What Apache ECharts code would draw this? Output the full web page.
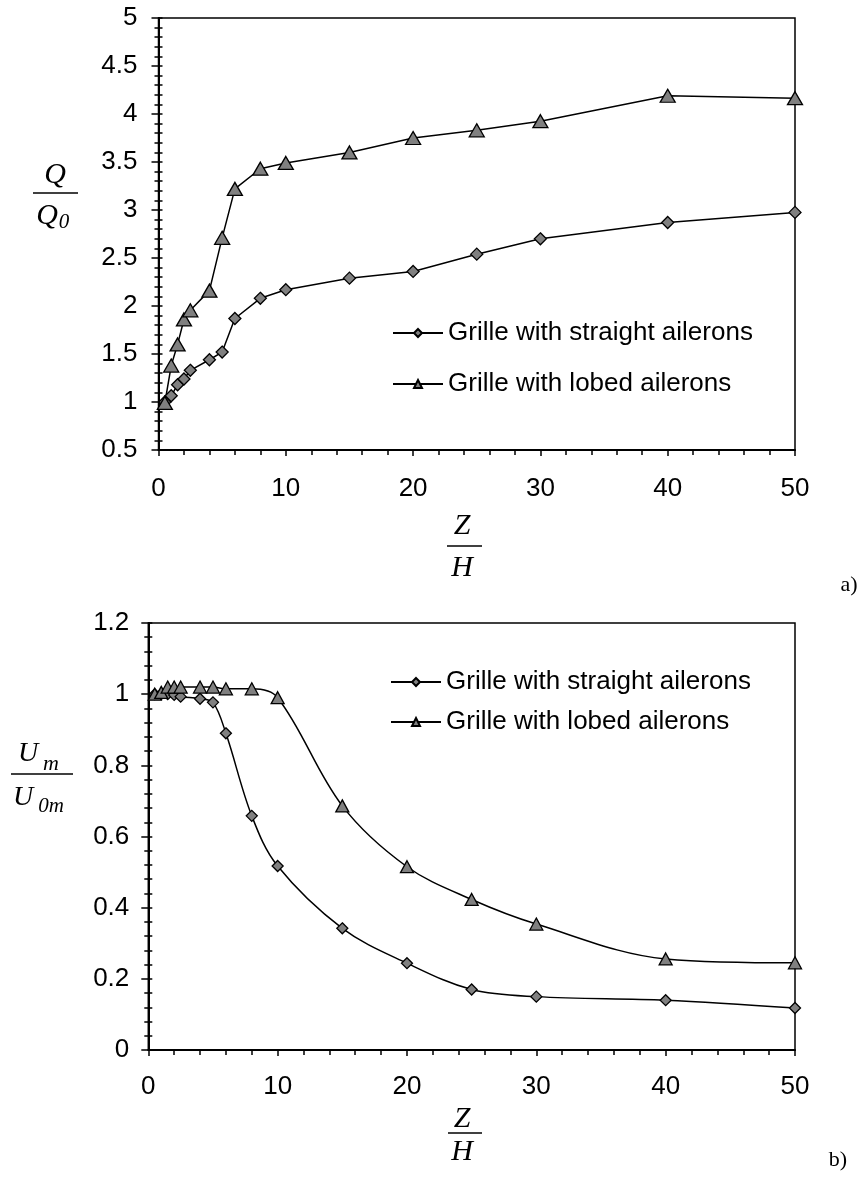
<!DOCTYPE html>
<html>
<head>
<meta charset="utf-8">
<script src="https://cdn.jsdelivr.net/npm/echarts@6/dist/echarts.min.js"></script>
<style>
html,body{margin:0;padding:0;background:#fff;}
#chart{width:862px;height:1184px;}
</style>
</head>
<body>
<div id="chart"></div>
<script>
// Z/H positions (shared by all series)
const xValues = [0.5, 1, 1.5, 2, 2.5, 4, 5, 6, 8, 10, 15, 20, 25, 30, 40, 50];
// a) Q/Q0
const qStraight = [1.0, 1.065, 1.18, 1.24, 1.33, 1.44, 1.52, 1.87, 2.08, 2.17, 2.29, 2.36, 2.54, 2.70, 2.87, 2.975];
const qLobed    = [0.99, 1.38, 1.60, 1.86, 1.955, 2.16, 2.71, 3.22, 3.43, 3.49, 3.60, 3.75, 3.83, 3.925, 4.19, 4.165];
// b) Um/U0m
const uStraight = [1.0, 1.0, 1.0, 0.998, 0.993, 0.987, 0.977, 0.89, 0.658, 0.517, 0.342, 0.244, 0.170, 0.150, 0.140, 0.118];
const uLobed    = [1.0, 1.005, 1.02, 1.02, 1.02, 1.02, 1.02, 1.015, 1.015, 0.99, 0.686, 0.515, 0.423, 0.354, 0.256, 0.245];

const nameStraight = 'Grille with straight ailerons';
const nameLobed = 'Grille with lobed ailerons';

const pair = arr => xValues.map((x, i) => [x, arr[i]]);

const TICK_FONT = 'Liberation Sans';
const SERIF = 'Liberation Serif';
const TICK_SIZE = 26;

function xAxisDef(gridIndex, margin) {
  return {
    type: 'value', gridIndex, min: 0, max: 50, interval: 10,
    axisLine: { show: true, onZero: false, lineStyle: { color: '#000', width: 2 } },
    axisTick: { show: true, inside: false, length: 6, lineStyle: { color: '#000', width: 1.5 } },
    minorTick: { show: true, splitNumber: 5, length: 5, lineStyle: { color: '#000', width: 1.5 } },
    axisLabel: { color: '#000', fontFamily: TICK_FONT, fontSize: TICK_SIZE, margin },
    splitLine: { show: false }, minorSplitLine: { show: false }
  };
}
function yAxisDef(gridIndex, min, max, interval, main, margin) {
  return {
    type: 'value', gridIndex, min, max, interval, position: 'left',
    axisLine: { show: main, onZero: false, lineStyle: { color: '#000', width: 2 } },
    axisTick: { show: true, inside: !main, length: main ? 7 : 4, lineStyle: { color: '#000', width: 1.5 } },
    minorTick: { show: true, splitNumber: 5, length: 4, lineStyle: { color: '#000', width: 1.5 } },
    axisLabel: { show: main, color: '#000', fontFamily: TICK_FONT, fontSize: TICK_SIZE, margin: margin || 20 },
    splitLine: { show: false }, minorSplitLine: { show: false }
  };
}
function seriesDef(name, data, xi, yi, shape, smooth, big) {
  const tri = shape === 'triangle';
  return {
    name, type: 'line', xAxisIndex: xi, yAxisIndex: yi, data: data,
    smooth: smooth,
    symbol: shape, symbolSize: tri ? (big ? [15, 13] : [13, 12]) : (big ? 12 : 11),
    showSymbol: true,
    lineStyle: { color: '#000', width: 1.5 },
    itemStyle: { color: '#808080', borderColor: '#000', borderWidth: 1.3 },
    emphasis: { disabled: true },
    animation: false, z: 3
  };
}
function legendDef(name, left, centerY) {
  return {
    data: [name], left, top: centerY - 15, orient: 'vertical',
    itemWidth: 50, itemHeight: 10, itemGap: 0,
    textStyle: { color: '#000', fontFamily: TICK_FONT, fontSize: 26, lineHeight: 30 },
    selectedMode: false, padding: 0
  };
}
function txt(text, x, y, size, italic, family) {
  return { type: 'text', z: 10, style: { text, x, y, fill: '#000',
    font: (italic ? 'italic ' : '') + size + 'px "' + (family || SERIF) + '"',
    align: 'center', verticalAlign: 'middle' } };
}
function hline(x1, x2, y) {
  return { type: 'line', z: 10, shape: { x1, y1: y, x2, y2: y }, style: { stroke: '#000', lineWidth: 1.5 } };
}

const option = {
  animation: false,
  backgroundColor: '#fff',
  grid: [
    { left: 158.5, right: 67, top: 18, height: 432, show: true, borderColor: '#000', borderWidth: 1.5, backgroundColor: 'transparent' },
    { left: 148.3, right: 67, top: 623, height: 427, show: true, borderColor: '#000', borderWidth: 1.5, backgroundColor: 'transparent' }
  ],
  xAxis: [xAxisDef(0, 26), xAxisDef(1, 24)],
  yAxis: [
    yAxisDef(0, 0.5, 5, 0.5, true, 21), yAxisDef(0, 0.5, 5, 0.5, false),
    yAxisDef(1, 0, 1.2, 0.2, true, 19), yAxisDef(1, 0, 1.2, 0.2, false)
  ],
  legend: [
    legendDef(nameStraight, 392, 333),
    legendDef(nameLobed, 392, 384),
    legendDef(nameStraight, 390, 682),
    legendDef(nameLobed, 390, 722)
  ],
  series: [
    seriesDef(nameStraight, pair(qStraight), 0, 0, 'diamond', false, true),
    seriesDef(nameLobed, pair(qLobed), 0, 0, 'triangle', false, true),
    seriesDef(nameStraight, pair(uStraight), 1, 2, 'diamond', 0.35, false),
    seriesDef(nameLobed, pair(uLobed), 1, 2, 'triangle', 0.35, false)
  ],
  graphic: [
    // a) y title Q / Q0
    txt('Q', 55, 175, 30, true),
    hline(33, 78, 193),
    txt('Q', 47, 216, 30, true),
    txt('0', 64, 222, 21, true),
    // a) x title Z / H
    txt('Z', 462, 526, 30, true),
    hline(447, 482, 546),
    txt('H', 462, 568, 30, true),
    txt('a)', 849, 585, 22, false),
    // b) y title Um / U0m
    txt('U', 28, 754, 28, true),
    txt('m', 51, 764, 22, true),
    hline(11, 73, 774),
    txt('U', 23, 798, 28, true),
    txt('0m', 51, 806, 21, true),
    // b) x title Z / H
    txt('Z', 462, 1119, 30, true),
    hline(448, 482, 1133),
    txt('H', 462, 1152, 30, true),
    txt('b)', 838, 1160, 22, false)
  ]
};

const chart = echarts.init(document.getElementById('chart'), null, { renderer: 'canvas' });
chart.setOption(option);
</script>
</body>
</html>
